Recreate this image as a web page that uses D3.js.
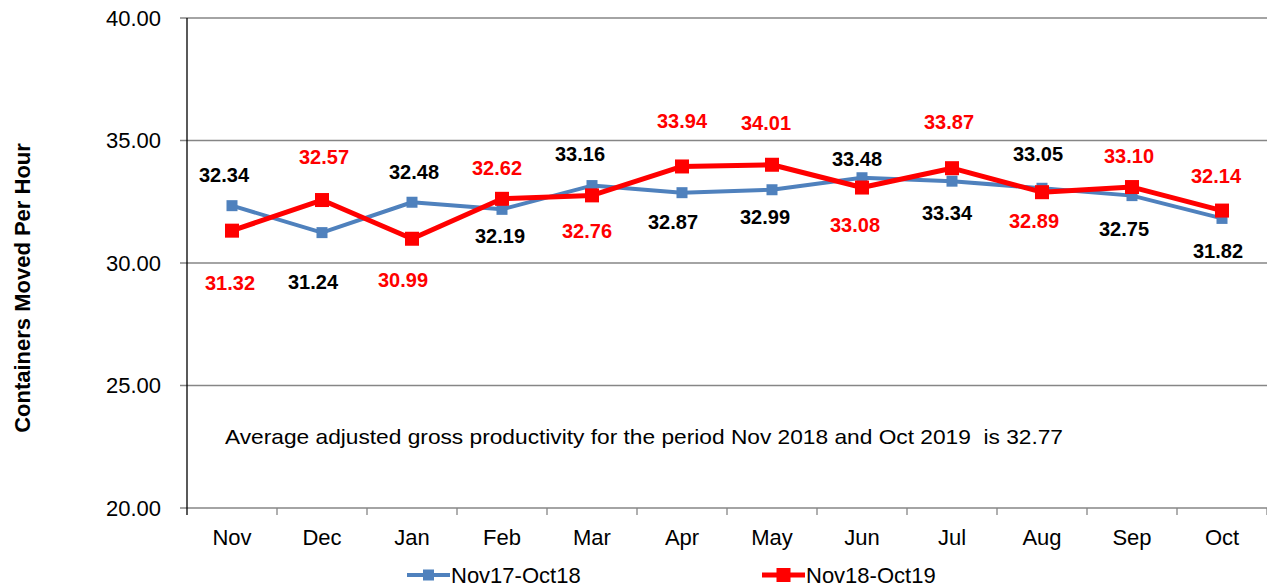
<!DOCTYPE html>
<html>
<head>
<meta charset="utf-8">
<script src="https://cdn.jsdelivr.net/npm/d3@7"></script>
<style>
	body { margin: 0; background: #fff; }
	svg text { font-family: "Liberation Sans", Arial, sans-serif; }
</style>
</head>
<body>
<div id="chartDiv"></div>
<script>
// data
let months = ["Nov", "Dec", "Jan", "Feb", "Mar", "Apr", "May", "Jun", "Jul", "Aug", "Sep", "Oct"];
let series1Name = "Nov17-Oct18";
let series1Values = [32.34, 31.24, 32.48, 32.19, 33.16, 32.87, 32.99, 33.48, 33.34, 33.05, 32.75, 31.82];
let series2Name = "Nov18-Oct19";
let series2Values = [31.32, 32.57, 30.99, 32.62, 32.76, 33.94, 34.01, 33.08, 33.87, 32.89, 33.10, 32.14];
let yTicks = [20, 25, 30, 35, 40];
let yTitle = "Containers Moved Per Hour";
let noteText = "Average adjusted gross productivity for the period Nov 2018 and Oct 2019  is 32.77";

// where each data label sits relative to its point (px)
let series1LabelDx = [-8, -9, 2, -2, -12, -9, -7, -5, -5, -4, -8, -4];
let series1LabelDy = [-31, 49, -30, 27, -32, 29, 27, -19, 32, -34, 33, 33];
let series2LabelDx = [-2, 2, -9, -5, -5, 0, -6, -7, -3, -8, -3, -6];
let series2LabelDy = [52, -43, 41, -31, 36, -45, -42, 37, -46, 29, -31, -35];

function drawChart(){
	let svgWidth = 1267, svgHeight = 588;

	let svg = d3.select("#chartDiv")
		.append("svg")
		.attr("width", svgWidth)
		.attr("height", svgHeight);

	let left = 187, right = 1267, top = 18, bottom = 508;

	var xScale = d3.scaleBand()
		.domain(months)
		.range([left, right]);

	var yScale = d3.scaleLinear()
		.domain([20, 40])
		.range([bottom, top]);

	// gridlines + y ticks
	svg.append("g")
		.selectAll("line")
		.data(yTicks)
		.enter().append("line")
		.attr("x1", left - 7)
		.attr("x2", right)
		.attr("y1", d => yScale(d))
		.attr("y2", d => yScale(d))
		.attr("stroke", "#868686")
		.attr("stroke-width", 1.3);

	svg.append("g")
		.selectAll("text")
		.data(yTicks)
		.enter().append("text")
		.attr("x", left - 26)
		.attr("y", d => yScale(d))
		.attr("dy", "0.35em")
		.attr("text-anchor", "end")
		.style("font-size", "22px")
		.attr("fill", "#000")
		.text(d => d.toFixed(2));

	// left axis line
	svg.append("line")
		.attr("x1", left).attr("x2", left)
		.attr("y1", top).attr("y2", bottom + 7)
		.attr("stroke", "#000")
		.attr("stroke-width", 1.3);

	// x ticks at band edges
	let edges = months.map(m => xScale(m)).concat([right]);
	svg.append("g")
		.selectAll("line")
		.data(edges.slice(1))
		.enter().append("line")
		.attr("x1", d => d).attr("x2", d => d)
		.attr("y1", bottom).attr("y2", bottom + 7)
		.attr("stroke", "#868686")
		.attr("stroke-width", 1.3);

	svg.append("g")
		.selectAll("text")
		.data(months)
		.enter().append("text")
		.attr("x", d => xScale(d) + xScale.bandwidth() / 2)
		.attr("y", 537)
		.attr("dy", "0.35em")
		.attr("text-anchor", "middle")
		.style("font-size", "22px")
		.text(d => d);

	// y title
	svg.append("text")
		.attr("transform", "translate(22,288) rotate(-90)")
		.attr("text-anchor", "middle")
		.attr("dy", "0.35em")
		.style("font-size", "22px")
		.style("font-weight", "bold")
		.text(yTitle);

	// annotation
	svg.append("text")
		.attr("x", 225)
		.attr("y", 437)
		.attr("dy", "0.35em")
		.attr("textLength", 838)
		.attr("lengthAdjust", "spacingAndGlyphs")
		.style("white-space", "pre")
		.style("font-size", "21px")
		.text(noteText);

	let cx = (d, i) => xScale(months[i]) + xScale.bandwidth() / 2;

	let line = d3.line()
		.x((d, i) => cx(d, i))
		.y(d => yScale(d));

	let seriesList = [
		{name: series1Name, values: series1Values, color: "#4F81BD", width: 4, marker: 11, labelColor: "#000", dx: series1LabelDx, dy: series1LabelDy},
		{name: series2Name, values: series2Values, color: "#FF0000", width: 5, marker: 14, labelColor: "#FF0000", dx: series2LabelDx, dy: series2LabelDy}
	];

	seriesList.forEach(function(s){
		let g = svg.append("g");
		g.append("path")
			.datum(s.values)
			.attr("d", line)
			.attr("fill", "none")
			.attr("stroke", s.color)
			.attr("stroke-width", s.width)
			.attr("stroke-linejoin", "round");

		g.selectAll("rect")
			.data(s.values)
			.enter().append("rect")
			.attr("x", (d, i) => cx(d, i) - s.marker / 2)
			.attr("y", d => yScale(d) - s.marker / 2)
			.attr("width", s.marker)
			.attr("height", s.marker)
			.attr("fill", s.color);
	});

	// data labels on top
	seriesList.forEach(function(s){
		svg.append("g")
			.selectAll("text")
			.data(s.values)
			.enter().append("text")
			.attr("x", (d, i) => cx(d, i) + s.dx[i])
			.attr("y", (d, i) => yScale(d) + s.dy[i])
			.attr("dy", "0.35em")
			.attr("text-anchor", "middle")
			.style("font-size", "20px")
			.style("font-weight", "bold")
			.attr("fill", s.labelColor)
			.text(d => d.toFixed(2));
	});

	// legend
	let legendX = [407, 762];
	seriesList.forEach(function(s, i){
		let lg = svg.append("g").attr("transform", "translate(" + legendX[i] + ",575)");
		lg.append("line")
			.attr("x1", 0).attr("x2", 43)
			.attr("y1", 0).attr("y2", 0)
			.attr("stroke", s.color)
			.attr("stroke-width", s.width);
		lg.append("rect")
			.attr("x", 21.5 - s.marker / 2)
			.attr("y", -s.marker / 2)
			.attr("width", s.marker)
			.attr("height", s.marker)
			.attr("fill", s.color);
		lg.append("text")
			.attr("x", 44)
			.attr("y", 0)
			.attr("dy", "0.35em")
			.style("font-size", "22px")
			.text(s.name);
	});
}

drawChart();
</script>
</body>
</html>
